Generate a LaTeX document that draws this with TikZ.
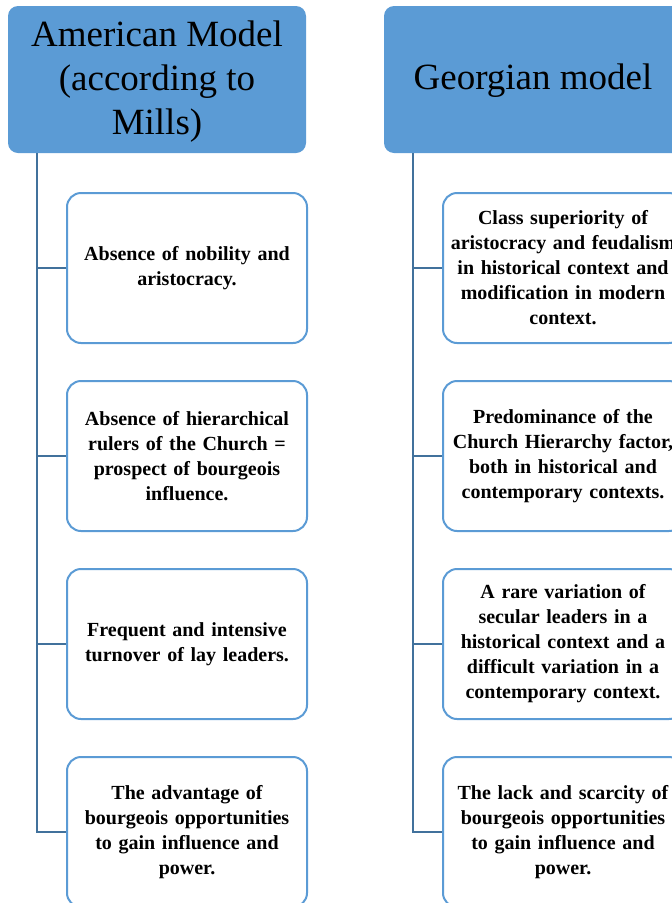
\documentclass[tikz,border=0pt]{standalone}
\usepackage{fontspec}
\setmainfont{Liberation Serif}[WordSpace=0.75]
\newfontfamily\headfont{Liberation Serif}
\definecolor{hblue}{HTML}{5B9BD5}
\definecolor{lblue}{HTML}{41719C}
\begin{document}
\begin{tikzpicture}[x=1pt,y=-1pt,
  head/.style={fill=hblue, draw=none, rounded corners=10pt, minimum width=298pt, minimum height=147pt, inner sep=2pt},
  headtext/.style={align=center, inner sep=0pt, font=\headfont\fontsize{37}{44}\selectfont},
  item/.style={draw=hblue, line width=2pt, fill=white, rounded corners=14pt, minimum width=240pt, minimum height=150pt, text width=226pt, inner sep=2pt, align=center, font=\bfseries\fontsize{20}{25}\selectfont},
  conn/.style={draw=lblue, line width=2.2pt}]
\useasboundingbox (0,0) rectangle (672,903);
\clip (0,0) rectangle (672,903);
% headers
\node[head] (lh) at (157,79.5) {};
\node[headtext] (lht) at (157,82) {American Model\\(according to\\Mills)};
\node[head] (rh) at (533,79.5) {};
\node[headtext] (rht) at (533,81) {Georgian model};
% left items
\node[item] (l1) at (187,268) {Absence of nobility and\\aristocracy.};
\node[item] (l2) at (187,456) {Absence of hierarchical\\rulers of the Church =\\prospect of bourgeois\\influence.};
\node[item] (l3) at (187,644) {Frequent and intensive\\turnover of lay leaders.};
\node[item] (l4) at (187,832) {The advantage of\\bourgeois opportunities\\to gain influence and\\power.};
% right items
\node[item] (r1) at (563,268) {Class superiority of\\aristocracy and feudalism\\in historical context and\\modification in modern\\context.};
\node[item] (r2) at (563,456) {Predominance of the\\Church Hierarchy factor,\\both in historical and\\contemporary contexts.};
\node[item] (r3) at (563,644) {A rare variation of\\secular leaders in a\\historical context and a\\difficult variation in a\\contemporary context.};
\node[item] (r4) at (563,832) {The lack and scarcity of\\bourgeois opportunities\\to gain influence and\\power.};
% connectors
\coordinate (lt) at (37,153);
\coordinate (rt) at (413,153);
\draw[conn] (lt) |- (l4.west);
\draw[conn] (lt |- l1.west) -- (l1.west);
\draw[conn] (lt |- l2.west) -- (l2.west);
\draw[conn] (lt |- l3.west) -- (l3.west);
\draw[conn] (rt) |- (r4.west);
\draw[conn] (rt |- r1.west) -- (r1.west);
\draw[conn] (rt |- r2.west) -- (r2.west);
\draw[conn] (rt |- r3.west) -- (r3.west);
\end{tikzpicture}
\end{document}
